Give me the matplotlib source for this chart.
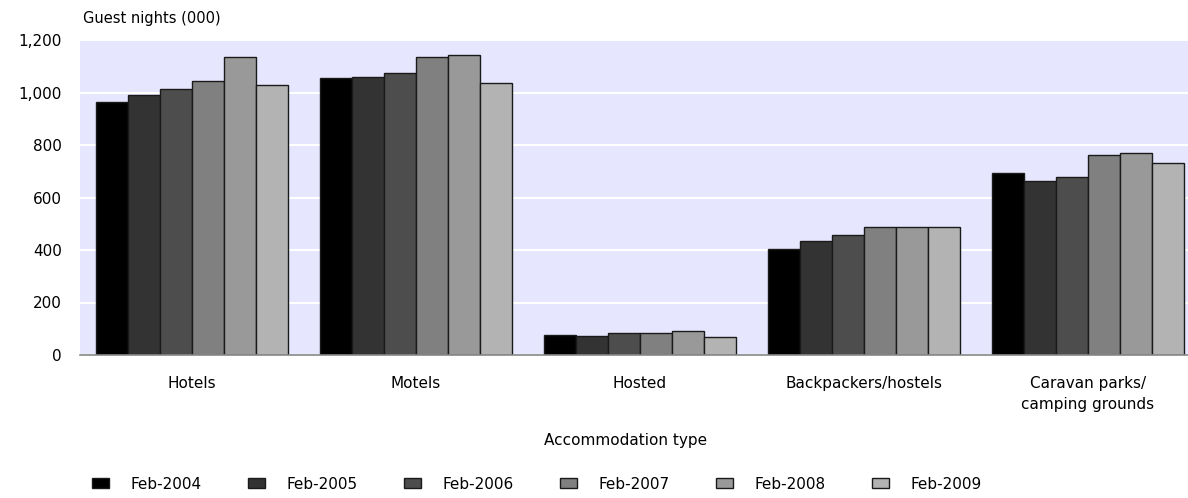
import matplotlib
matplotlib.use("Agg")
import matplotlib.pyplot as plt
import numpy as np
from matplotlib.patches import Patch
from matplotlib.ticker import FuncFormatter

categories = ["Hotels", "Motels", "Hosted", "Backpackers/hostels", "Caravan parks/\ncamping grounds"]
series_names = ["Feb-2004", "Feb-2005", "Feb-2006", "Feb-2007", "Feb-2008", "Feb-2009"]
feb2004 = [963, 1054, 76, 404, 694]
feb2005 = [990, 1059, 74, 434, 663]
feb2006 = [1012, 1075, 83, 457, 678]
feb2007 = [1044, 1134, 83, 486, 762]
feb2008 = [1134, 1143, 91, 486, 768]
feb2009 = [1029, 1037, 70, 486, 730]
series = [feb2004, feb2005, feb2006, feb2007, feb2008, feb2009]
colors = ["#000000", "#333333", "#4d4d4d", "#808080", "#999999", "#b3b3b3"]

W, H = 1188, 498
fig = plt.figure(figsize=(W / 100, H / 100), dpi=100)
ax = fig.add_axes([80 / W, (H - 355) / H, 1120 / W, 315 / H])
ax.set_facecolor("#e6e6ff")

x = np.arange(len(categories))
bw = 0.1436
n = len(series)
for i, (vals, c) in enumerate(zip(series, colors)):
    ax.bar(x + (i - (n - 1) / 2) * bw, vals, width=bw, color=c,
           edgecolor="#1a1a1a", linewidth=1.0, zorder=3)

ax.set_xlim(-0.5, len(categories) - 0.5)
ax.set_ylim(0, 1200)
ax.set_yticks(range(0, 1201, 200))
ax.yaxis.set_major_formatter(FuncFormatter(lambda v, p: f"{int(v):,}"))
ax.grid(axis="y", color="white", linewidth=1.5, zorder=1)
ax.set_axisbelow(True)
for s in ["top", "right", "left"]:
    ax.spines[s].set_visible(False)
ax.spines["bottom"].set_color("#888888")
ax.spines["bottom"].set_linewidth(1.2)
ax.spines["bottom"].set_zorder(4)
ax.tick_params(axis="both", length=0, labelsize=11)
ax.tick_params(axis="y", pad=13)
ax.tick_params(axis="x", pad=15)
ax.set_xticks(x)
ax.set_xticklabels(categories, linespacing=1.5)

fig.text(83 / W, 1 - 19 / H, "Guest nights (000)", fontsize=10.5, ha="left", va="center")
fig.text(626 / W, 1 - 440 / H, "Accommodation type", fontsize=11, ha="center", va="center")

handles = [Patch(facecolor=c, edgecolor="#1a1a1a", linewidth=1.0) for c in colors]
fig.legend(handles, series_names, loc="center left", bbox_to_anchor=(92 / W, 1 - 484 / H),
           ncol=6, frameon=False, fontsize=11, handlelength=1.1, handleheight=0.6,
           handletextpad=1.45, columnspacing=3.0, borderaxespad=0, borderpad=0)

fig.savefig("out.png", dpi=100)
